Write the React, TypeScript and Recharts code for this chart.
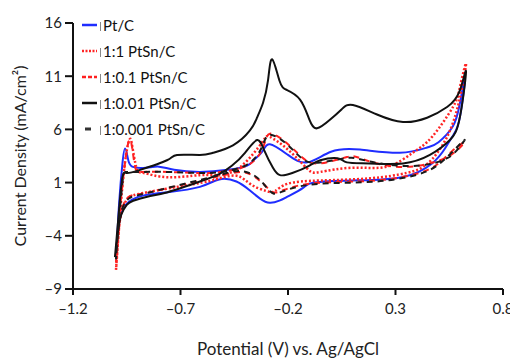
import { LineChart, Line, XAxis, YAxis, Legend } from 'recharts';

// cyclic voltammograms, [potential V, current density mA/cm2]
const ptC: [number, number][] = [
  [-1.0, -5.8], [-0.99, -3.4], [-0.975, -1.9], [-0.955, -1.1], [-0.925, -0.6], [-0.87, -0.2],
  [-0.76, 0.1], [-0.61, 0.6], [-0.52, 1.3], [-0.44, 1.1], [-0.38, 0.3], [-0.33, -0.5],
  [-0.285, -0.9], [-0.24, -0.7], [-0.2, -0.3], [-0.13, 0.5], [-0.08, 1.0], [0.1, 1.2],
  [0.33, 1.5], [0.47, 2.8], [0.53, 4.2], [0.57, 5.5], [0.6, 7.2], [0.623, 10.7],
  [0.6, 8.5], [0.567, 6.3], [0.5, 4.8], [0.447, 4.3], [0.32, 3.8], [0.135, 4.1],
  [0.0, 3.9], [-0.11, 2.9], [-0.2, 3.6], [-0.284, 4.6], [-0.32, 3.9], [-0.36, 3.1],
  [-0.39, 2.6], [-0.48, 2.2], [-0.61, 2.0], [-0.73, 2.2], [-0.8, 2.5], [-0.86, 2.4],
  [-0.925, 2.5], [-0.945, 3.3], [-0.958, 4.2], [-0.97, 2.8], [-0.985, -0.8], [-0.995, -4.4],
  [-1.0, -5.8],
];

const ptSn1_1: [number, number][] = [
  [-1.0, -7.2], [-0.99, -4.2], [-0.975, -1.8], [-0.95, -0.6], [-0.92, -0.2], [-0.8, 0.3],
  [-0.6, 1.0], [-0.5, 1.5], [-0.43, 1.6], [-0.37, 0.8], [-0.3, 0.2], [-0.26, 0.2],
  [-0.2, 0.9], [-0.05, 1.2], [0.18, 1.4], [0.35, 1.9], [0.45, 2.8], [0.54, 5.3],
  [0.6, 9.0], [0.628, 12.2],
  [0.6, 10.0], [0.567, 8.1], [0.47, 5.3], [0.38, 3.8], [0.26, 2.5], [0.1, 2.4],
  [-0.05, 2.0], [-0.11, 2.3], [-0.2, 4.1], [-0.284, 5.3], [-0.32, 4.8], [-0.42, 2.5],
  [-0.52, 1.7], [-0.61, 1.7], [-0.76, 1.5], [-0.87, 1.9], [-0.905, 2.4], [-0.925, 4.5],
  [-0.935, 5.1], [-0.95, 4.0], [-0.972, 0.3], [-0.99, -4.4], [-1.0, -7.2],
];

const ptSn1_01: [number, number][] = [
  [-1.0, -6.5], [-0.99, -3.6], [-0.972, -1.5], [-0.945, -0.4], [-0.9, -0.1], [-0.82, 0.2],
  [-0.69, 0.8], [-0.52, 1.6], [-0.42, 2.0], [-0.36, 1.6], [-0.31, 0.8], [-0.27, 0.1],
  [-0.22, 0.3], [-0.1, 0.9], [0.1, 1.1], [0.26, 1.3], [0.41, 1.9], [0.5, 2.8],
  [0.565, 4.0], [0.62, 4.8],
  [0.6, 4.3], [0.54, 3.4], [0.414, 2.6], [0.26, 2.6], [0.135, 3.3], [0.074, 3.4],
  [-0.05, 2.8], [-0.13, 3.3], [-0.205, 4.7], [-0.284, 5.6], [-0.316, 4.3], [-0.39, 2.6],
  [-0.516, 2.0], [-0.61, 1.9], [-0.76, 2.0], [-0.875, 2.0], [-0.91, 2.4], [-0.925, 4.3],
  [-0.935, 5.0], [-0.95, 4.0], [-0.977, -0.6], [-0.995, -5.3], [-1.0, -6.5],
];

const ptSn1_001: [number, number][] = [
  [-1.005, -6.0], [-0.99, -3.5], [-0.975, -2.0], [-0.95, -1.1], [-0.92, -0.7], [-0.85, -0.3],
  [-0.76, 0.1], [-0.61, 1.1], [-0.52, 1.8], [-0.46, 2.6], [-0.4, 3.8], [-0.344, 5.0],
  [-0.31, 4.0], [-0.27, 2.4], [-0.237, 1.7], [-0.18, 1.9], [-0.1, 2.6], [-0.05, 3.1],
  [0.03, 3.3], [0.074, 2.9], [0.18, 2.8], [0.335, 2.8], [0.46, 3.6], [0.553, 5.0],
  [0.6, 7.2], [0.628, 11.4],
  [0.6, 9.7], [0.54, 8.1], [0.447, 7.1], [0.335, 6.7], [0.214, 7.4], [0.102, 8.3],
  [0.05, 7.9], [-0.005, 6.9], [-0.065, 6.1], [-0.1, 6.9], [-0.144, 8.8], [-0.205, 9.7],
  [-0.24, 10.6], [-0.274, 12.6], [-0.293, 10.6], [-0.316, 8.5], [-0.344, 7.1], [-0.377, 5.9],
  [-0.456, 4.5], [-0.549, 3.8], [-0.61, 3.6], [-0.716, 3.6], [-0.763, 3.1], [-0.888, 2.2],
  [-0.95, 1.9], [-0.97, 1.5], [-0.986, -1.6], [-1.0, -4.9], [-1.005, -6.0],
];

const ptSn1_0001: [number, number][] = [
  [-1.0, -6.2], [-0.99, -3.4], [-0.97, -1.4], [-0.94, -0.5], [-0.9, -0.2], [-0.8, 0.3],
  [-0.68, 0.9], [-0.52, 1.7], [-0.43, 2.1], [-0.36, 1.7], [-0.31, 0.8], [-0.27, 0.0],
  [-0.22, 0.2], [-0.1, 0.8], [0.1, 1.0], [0.26, 1.2], [0.41, 1.8], [0.5, 2.7],
  [0.565, 3.9], [0.62, 5.0],
  [0.6, 4.4], [0.54, 3.3], [0.414, 2.6], [0.26, 2.7], [0.135, 3.2], [0.07, 3.3],
  [-0.05, 2.9], [-0.13, 3.2], [-0.205, 4.6], [-0.284, 5.5], [-0.32, 4.4], [-0.39, 2.7],
  [-0.516, 2.0], [-0.61, 1.9], [-0.76, 2.0], [-0.9, 2.0], [-0.955, 2.0], [-0.97, 1.0],
  [-0.99, -3.5], [-1.0, -6.2],
];

const xTicks = [-1.2, -0.7, -0.2, 0.3, 0.8];
const yTicks = [-9, -4, 1, 6, 11, 16];

const toPts = (arr: [number, number][]) => arr.map(([x, y]) => ({ x, y }));

const series = [
  { name: 'Pt/C', data: toPts(ptC), color: '#1f2dff', dash: undefined as string | undefined, offset: 0 },
  { name: '1:1 PtSn/C', data: toPts(ptSn1_1), color: '#ff2424', dash: '2 2', offset: 0 },
  { name: '1:0.1 PtSn/C', data: toPts(ptSn1_01), color: '#ff2020', dash: '6 5', offset: 0 },
  { name: '1:0.01 PtSn/C', data: toPts(ptSn1_001), color: '#111111', dash: undefined, offset: 0 },
  { name: '1:0.001 PtSn/C', data: toPts(ptSn1_0001), color: '#1a1a1a', dash: '6 5', offset: 5 },
];

const fmt = (v: number) => (v < 0 ? '\u2013' + Math.abs(v) : String(v));
const font = 'Lato, "Open Sans", sans-serif';

function LegendBox() {
  return (
    <div style={{ fontFamily: font, fontSize: 15, color: '#111' }}>
      {series.map((s, i) => (
        <div key={s.name} style={{ display: 'flex', alignItems: 'center', height: 26 }}>
          <svg width={18} height={10}>
            {i === 4 ? (
              <line x1={4} y1={5} x2={10} y2={5} stroke="#333" strokeWidth={3} />
            ) : (
              <line x1={1} y1={5} x2={16} y2={5} stroke={s.color} strokeWidth={2.5} strokeDasharray={s.dash ? (i === 1 ? '2 1.5' : '4 2') : undefined} />
            )}
          </svg>
          <span style={{ display: 'inline-block', width: 1, height: 9, background: '#888', margin: '3px 2px 0 1px' }} />
          <span>{s.name}</span>
        </div>
      ))}
    </div>
  );
}

export default function App() {
  return (
    <LineChart width={518} height={360} margin={{ top: 15, right: 23, left: 0, bottom: 0 }}>
      <XAxis
        type="number"
        dataKey="x"
        domain={[-1.2, 0.8]}
        ticks={xTicks}
        tickFormatter={fmt}
        stroke="#111"
        strokeWidth={2}
        tickSize={6}
        tickMargin={8}
        height={79}
        tick={{ fill: '#222', fontSize: 15, fontFamily: font }}
        label={{ value: 'Potential (V) vs. Ag/AgCl', position: 'insideBottom', offset: 13, style: { fill: '#222', fontSize: 17, fontFamily: font } }}
      />
      <YAxis
        type="number"
        domain={[-9, 16]}
        ticks={yTicks}
        tickFormatter={fmt}
        stroke="#111"
        strokeWidth={2}
        tickSize={8}
        tickMargin={3}
        width={65}
        tick={{ fill: '#222', fontSize: 15, fontFamily: font }}
        label={{ value: 'Current Density (mA/cm\u00b2)', angle: -90, position: 'insideLeft', offset: 12, style: { textAnchor: 'middle', fill: '#222', fontSize: 16, fontFamily: font } }}
      />
      {series.map((s) => (
        <Line
          key={s.name}
          data={s.data}
          dataKey="y"
          type="natural"
          stroke={s.color}
          strokeWidth={s.dash === '2 2' ? 2.5 : 2}
          strokeDasharray={s.dash}
          strokeDashoffset={s.offset}
          dot={false}
          isAnimationActive={false}
        />
      ))}
      <Legend
        layout="horizontal"
        verticalAlign="middle"
        align="center"
        wrapperStyle={{ left: 73, top: 4, width: 200, height: 135 }}
        content={() => <LegendBox />}
      />
    </LineChart>
  );
}
